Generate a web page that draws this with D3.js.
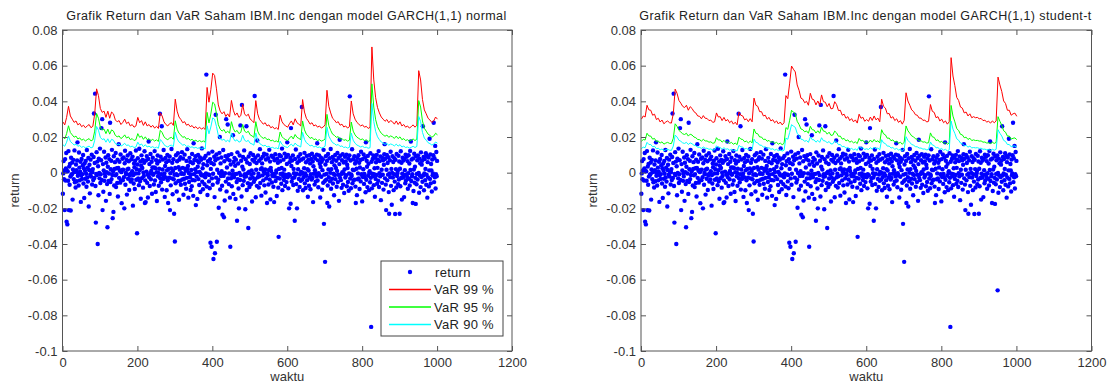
<!DOCTYPE html>
<html>
<head>
<meta charset="utf-8">
<script src="https://cdn.jsdelivr.net/npm/d3@7"></script>
<style>
  body { margin: 0; background: #fff; }
  svg { font-family: "Liberation Sans", Arial, sans-serif; }
  .tick text { fill: #333; font-size: 13px; }
  .tick line { stroke: #555; }
</style>
</head>
<body>
<div id="chart"></div>
<script>
// return saham IBM, satuan 1e-4, waktu = 1..1000
const ret = [
  -118,-4,65,-37,12,-210,76,-44,23,110,-275,9,-290,7,-45,121,-210,34,-68,49,
  -22,-212,84,-12,-9,57,-151,18,72,-36,3,125,-54,6,-83,46,14,-48,68,170,
  -17,-3,-72,113,28,-43,6,61,-164,-14,77,-35,-8,42,99,-61,25,-142,51,11,
  -34,66,-6,-79,127,-27,28,-50,82,-190,15,44,-116,-11,73,-22,5,101,-66,2,
  20,-41,88,332,-30,54,443,-75,-280,-7,115,-13,62,-400,36,-127,79,-2,-32,135,
  -58,-9,70,250,-41,300,-210,48,-107,12,117,-46,-4,-21,85,-158,56,2,-64,-306,
  33,98,-47,-5,76,-119,280,-53,19,67,-36,128,-13,-255,7,-220,92,-72,21,59,
  -15,110,-81,-8,25,-58,73,-134,26,160,-29,61,11,-56,102,-44,3,-171,15,78,
  -42,17,86,-25,-200,53,123,-68,-2,-9,71,-123,18,96,-34,22,64,-97,-10,-16,
  109,-50,-6,75,-38,8,90,-185,-13,-61,52,31,-92,67,-5,124,-40,19,-340,46,
  81,-33,-4,-70,134,14,-48,63,-146,39,97,-31,26,72,-84,1,-19,55,120,-170,
  -43,-165,68,6,93,-57,-11,-139,77,175,-24,48,-75,-3,105,-37,10,61,-118,29,
  84,-12,-7,-66,29,121,-44,25,-108,70,3,-159,51,96,-20,-1,-73,22,65,330,
  -31,89,-54,-9,260,-95,18,74,-35,127,-20,-5,-136,37,82,-27,59,-99,13,100,
  -43,-170,21,67,-28,91,-210,-3,-71,24,133,-32,56,-121,9,75,-37,-230,-12,-386,
  26,-59,98,-8,-106,64,-14,109,-47,31,-152,73,17,-45,87,-68,-6,-3,115,-38,
  27,79,-124,-7,-34,101,-62,22,11,-90,66,-29,132,20,38,-140,-2,-52,83,-26,
  60,-97,-10,15,-76,105,-41,53,-130,165,-8,71,-43,19,92,-182,4,-22,68,-147,
  33,99,-36,57,-69,4,86,-108,-6,72,-15,136,-51,25,-93,48,-17,81,-64,-11,
  -26,94,-4,550,-78,42,-125,65,-10,108,-49,-13,-87,76,-393,21,54,-415,-32,118,
  -68,-6,-484,47,89,-137,-452,70,325,-28,102,-387,16,-55,79,-40,-197,-2,111,200,
  -94,52,-19,85,8,-73,-236,-9,127,-18,-250,64,-156,-3,93,-50,300,-105,29,77,
  270,-33,98,-64,-5,69,-140,-415,46,-31,104,-76,-12,11,210,-119,60,-26,83,-8,
  39,-148,73,-7,-52,-270,114,-37,51,-89,-200,-1,96,-41,265,-14,67,-134,380,33,
  -70,88,18,-46,125,-23,-8,-205,75,-21,260,-97,57,-3,-59,-310,91,5,-80,49,
  -33,109,-65,-10,13,-162,72,-28,99,-4,-51,63,430,-37,84,-138,16,54,-74,180,
  -26,97,-6,-83,67,-20,132,-58,20,79,-129,25,52,-15,90,-43,6,106,-71,-2,
  18,-111,74,-32,101,-170,-5,-14,81,-66,15,128,-38,62,-150,27,9,95,-55,-11,
  -19,86,-79,-7,-165,70,-22,103,-47,-1,13,-131,78,-29,56,-84,-360,21,99,-33,
  64,-7,92,-62,26,135,-98,-4,-19,73,-41,17,107,-75,-12,-23,88,-53,49,170,
  -26,100,-88,-8,-200,59,-16,82,-174,250,37,-50,68,-31,96,-69,21,-3,-27,-270,
  77,-12,130,-64,-6,-200,55,-101,19,89,-35,66,-80,-10,104,-46,4,73,368,-38,
  -2,-99,80,-24,25,111,-60,-5,-86,58,-17,94,-42,19,-135,71,12,-73,98,-27,
  52,-93,-9,77,-38,106,-30,63,-165,36,-6,90,-67,14,79,-50,-4,-21,101,165,
  -44,69,-82,-3,97,-16,50,-139,32,84,-23,61,-96,14,75,-57,128,-287,-11,-48,
  -500,46,92,-39,-7,66,-170,-72,105,18,-25,-190,81,-48,-1,133,-90,20,59,-34,
  88,-61,-6,74,-127,41,-13,99,-36,26,67,-79,10,110,-53,-12,82,-158,48,185,
  -29,95,-42,-8,-85,70,3,104,-68,-3,57,-114,18,89,-27,63,-14,101,-76,44,
  26,-52,80,-101,-5,97,428,-33,68,-87,-10,-19,131,-60,17,75,-44,14,92,-39,
  51,-78,-170,65,22,-126,83,-37,-4,98,-33,56,-92,29,71,-49,117,-9,-12,-161,
  76,-24,19,102,-63,-7,-25,86,-110,170,-40,67,33,-81,94,-17,50,-98,-2,8,
  -54,109,-29,-865,61,-88,-6,77,-20,96,-70,-9,25,-135,84,-35,58,-13,100,-62,
  27,73,-46,121,-80,-3,65,-21,91,-154,-11,16,-57,82,-12,69,-95,44,103,160,
  -32,78,-67,-210,16,99,-43,54,-11,87,-109,-230,-5,70,-25,117,-74,21,-180,-1,
  93,-27,60,-98,-8,81,-50,-232,72,20,-83,105,-19,-4,10,-65,95,-38,63,-230,
  22,-76,120,-30,55,-151,-6,84,-28,68,-13,-137,77,14,-59,101,-44,-10,89,-24,
  65,-90,-3,98,-34,51,-72,122,15,175,-47,74,-21,-9,-170,80,-103,18,106,-56,
  33,-29,-175,92,-65,-7,70,-38,97,-660,-2,-113,79,-16,53,-81,114,-24,45,67,
  -51,260,-16,88,-99,-5,76,-42,21,109,-68,-12,94,-140,59,-27,85,-77,13,190,
  -35,102,-60,49,12,-106,74,-15,-4,98,280,-53,81,-26,150,-89,-9,116,-20,66
];

// VaR GARCH(1,1) normal, satuan 1e-4, waktu = 1,6,11,...,1001
const var99n = [
  285,268,310,372,318,300,282,290,268,276, 258,266,252,262,270,252,260,330,470,432,
  360,338,345,310,345,305,340,330,296,285, 292,270,282,300,275,284,262,270,255,262,
  310,280,292,265,285,262,270,255,265,250, 260,248,335,318,285,270,262,275,280,265,
  412,345,312,298,280,286,266,272,258,264, 250,258,246,255,244,252,242,478,395,465,
  558,545,470,380,345,330,342,315,330,312, 405,350,322,335,310,320,382,330,318,328,
  300,292,280,404,330,298,285,272,280,262, 268,252,258,246,252,242,322,286,270,262,
  255,275,290,268,302,280,272,262,410,340, 305,290,272,280,262,268,255,262,250,256,
  268,462,372,335,305,295,280,286,266,272, 256,262,250,258,402,330,300,282,272,262,
  268,255,260,248,254,705,520,420,365,335, 312,300,288,298,280,292,285,272,290,270,
  285,262,270,255,262,250,258,268,255,266, 572,520,410,352,330,305,295,282,290,312,
  300
];
const var95n = [
  201,189,219,263,225,212,199,205,189,195, 182,188,178,185,191,178,184,233,332,305,
  255,239,244,219,244,216,240,233,209,201, 206,191,199,212,194,201,185,191,180,185,
  219,198,206,187,201,185,191,180,187,177, 184,175,237,225,201,191,185,194,198,187,
  291,244,221,211,198,202,188,192,182,187, 177,182,174,180,173,178,171,338,279,329,
  395,385,332,269,244,233,242,223,233,221, 286,247,228,237,219,226,270,233,225,232,
  212,206,198,286,233,211,201,192,198,185, 189,178,182,174,178,171,228,202,191,185,
  180,194,205,189,214,198,192,185,290,240, 216,205,192,198,185,189,180,185,177,181,
  189,327,263,237,216,209,198,202,188,192, 181,185,177,182,284,233,212,199,192,185,
  189,180,184,175,180,498,368,297,258,237, 221,212,204,211,198,206,201,192,205,191,
  201,185,191,180,185,177,182,189,180,188, 404,368,290,249,233,216,209,199,205,221,
  212
];
const var90n = [
  157,148,171,205,175,165,155,160,148,152, 142,147,139,144,149,139,143,182,259,238,
  198,186,190,171,190,168,187,182,163,157, 161,149,155,165,152,156,144,149,141,144,
  171,154,161,146,157,144,149,141,146,138, 143,137,185,175,157,149,144,152,154,146,
  227,190,172,164,154,158,147,150,142,145, 138,142,136,141,134,139,133,263,218,256,
  307,300,259,209,190,182,188,174,182,172, 223,193,177,185,171,176,210,182,175,181,
  165,161,154,223,182,164,157,150,154,144, 148,139,142,136,139,133,177,158,149,144,
  141,152,160,148,166,154,150,144,226,187, 168,160,150,154,144,148,141,144,138,141,
  148,255,205,185,168,163,154,158,147,150, 141,144,138,142,222,182,165,155,150,144,
  148,141,143,137,140,388,287,231,201,185, 172,165,159,164,154,161,157,150,160,149,
  157,144,149,141,144,138,142,148,141,147, 315,287,226,194,182,168,163,155,160,172,
  165
];

// VaR GARCH(1,1) student-t, satuan 1e-4, waktu = 1,6,11,...,1001
const var99t = [
  300,318,312,378,352,350,322,328,298,305, 284,295,274,284,290,280,278,330,468,445,
  405,390,372,365,378,350,370,360,342,335, 318,316,302,320,305,304,292,295,282,285,
  335,312,314,292,310,290,298,280,290,272, 283,268,340,322,318,296,302,286,303,285,
  418,378,372,342,342,318,322,300,310,290, 297,280,290,273,284,268,280,432,415,502,
  598,580,565,492,462,418,412,392,400,378, 445,412,408,380,402,378,436,398,395,370,
  388,358,360,398,382,348,350,322,328,305, 314,292,303,285,296,278,328,305,311,288,
  298,288,312,293,318,296,306,285,412,372, 362,330,332,306,314,292,302,282,292,272,
  293,448,402,378,352,343,325,322,306,306, 293,295,284,288,382,344,338,308,314,290,
  300,280,290,272,285,645,542,488,422,405, 368,362,335,340,318,330,308,314,308,310,
  302,304,292,294,284,288,278,290,280,290, 536,492,455,402,388,350,350,322,330,334,
  316
];
const var95t = [
  176,186,183,221,206,205,188,192,174,178, 166,173,160,166,170,164,163,193,274,260,
  237,228,218,214,221,205,216,211,200,196, 186,185,177,187,178,178,171,173,165,167,
  196,183,184,171,181,170,174,164,170,159, 166,157,199,188,186,173,177,167,177,167,
  245,221,218,200,200,186,188,176,181,170, 174,164,170,160,166,157,164,253,243,294,
  350,339,331,288,270,245,241,229,234,221, 260,241,239,222,235,221,255,233,231,216,
  227,209,211,233,223,204,205,188,192,178, 184,171,177,167,173,163,192,178,182,168,
  174,168,183,171,186,173,179,167,241,218, 212,193,194,179,184,171,177,165,171,159,
  171,262,235,221,206,201,190,188,179,179, 171,173,166,168,223,201,198,180,184,170,
  176,164,170,159,167,377,317,285,247,237, 215,212,196,199,186,193,180,184,180,181,
  177,178,171,172,166,168,163,170,164,170, 314,288,266,235,227,205,205,188,193,195,
  185
];
const var90t = [
  135,143,140,170,158,158,145,148,134,137, 128,133,123,128,131,126,125,149,211,200,
  182,176,167,164,170,158,167,162,154,151, 143,142,136,144,137,137,131,133,127,128,
  151,140,141,131,140,131,134,126,131,122, 127,121,153,145,143,133,136,129,136,128,
  188,170,167,154,154,143,145,135,140,131, 134,126,131,123,128,121,126,194,187,226,
  269,261,254,221,208,188,185,176,180,170, 200,185,184,171,181,170,196,179,178,167,
  175,161,162,179,172,157,158,145,148,137, 141,131,136,128,133,125,148,137,140,130,
  134,130,140,132,143,133,138,128,185,167, 163,149,149,138,141,131,136,127,131,122,
  132,202,181,170,158,154,146,145,138,138, 132,133,128,130,172,155,152,139,141,131,
  135,126,131,122,128,290,244,220,190,182, 166,163,151,153,143,149,139,141,139,140,
  136,137,131,132,128,130,125,131,126,131, 241,221,205,181,175,158,158,145,149,150,
  142
];

const xTicks = [0, 200, 400, 600, 800, 1000, 1200];
const yTicks = [-0.1, -0.08, -0.06, -0.04, -0.02, 0, 0.02, 0.04, 0.06, 0.08];
const legendLabels = ["return", "VaR 99 %", "VaR 95 %", "VaR 90 %"];
const colors = ["#0000ff", "#ff0000", "#00ff00", "#00ffff"];

const W = 1110, H = 385;
const plotTop = 30, plotBottom = 351;
const svg = d3.select("#chart").append("svg").attr("width", W).attr("height", H);

function drawPanel(left, right, title, titleWidth, v99, v95, v90, withLegend) {
  const x = d3.scaleLinear().domain([0, 1200]).range([left, right]);
  const y = d3.scaleLinear().domain([-0.1, 0.08]).range([plotBottom, plotTop]);
  const g = svg.append("g");

  // titik return
  g.append("g").selectAll("circle")
    .data(ret)
    .join("circle")
    .attr("cx", (d, i) => x(i + 1))
    .attr("cy", d => y(d * 1e-4))
    .attr("r", 2.2)
    .attr("fill", colors[0]);

  // garis VaR
  const line = d3.line().x((d, i) => x(1 + 5 * i)).y(d => y(d * 1e-4));
  [v99, v95, v90].forEach((s, i) => {
    g.append("path")
      .attr("d", line(s))
      .attr("fill", "none")
      .attr("stroke", colors[i + 1])
      .attr("stroke-width", 1);
  });

  // sumbu, tick ke dalam seperti matlab
  const fmt = d => d === 0 ? "0" : String(+d.toFixed(2));
  g.append("g").attr("transform", `translate(0,${plotBottom})`)
    .call(d3.axisBottom(x).tickValues(xTicks).tickFormat(d3.format("d"))
      .tickSizeInner(-5).tickSizeOuter(0).tickPadding(7))
    .call(a => a.select(".domain").remove());
  g.append("g").attr("transform", `translate(0,${plotTop})`)
    .call(d3.axisTop(x).tickValues(xTicks).tickSizeInner(-5).tickSizeOuter(0).tickFormat(""))
    .call(a => a.select(".domain").remove());
  g.append("g").attr("transform", `translate(${left},0)`)
    .call(d3.axisLeft(y).tickValues(yTicks).tickFormat(fmt).tickSizeInner(-5).tickSizeOuter(0).tickPadding(5))
    .call(a => a.select(".domain").remove());
  g.append("g").attr("transform", `translate(${right},0)`)
    .call(d3.axisRight(y).tickValues(yTicks).tickSizeInner(-5).tickSizeOuter(0).tickFormat(""))
    .call(a => a.select(".domain").remove());

  g.append("rect")
    .attr("x", left).attr("y", plotTop)
    .attr("width", right - left).attr("height", plotBottom - plotTop)
    .attr("fill", "none").attr("stroke", "#555").attr("stroke-width", 1);

  const cx = (left + right) / 2;
  g.append("text").attr("x", cx - 1).attr("y", 20)
    .attr("text-anchor", "middle").attr("font-size", 12.5)
    .attr("textLength", titleWidth).attr("lengthAdjust", "spacing")
    .attr("fill", "#222")
    .text(title);
  g.append("text").attr("x", cx).attr("y", 381)
    .attr("text-anchor", "middle").attr("font-size", 13).attr("fill", "#333")
    .text("waktu");
  g.append("text")
    .attr("transform", `translate(${left - 44},${(plotTop + plotBottom) / 2}) rotate(-90)`)
    .attr("text-anchor", "middle").attr("font-size", 13).attr("fill", "#333")
    .text("return");

  if (withLegend) {
    const lg = g.append("g").attr("transform", "translate(381,261)");
    lg.append("rect").attr("width", 122).attr("height", 75)
      .attr("fill", "#fff").attr("stroke", "#444").attr("stroke-width", 1);
    legendLabels.forEach((lab, i) => {
      const yy = 11 + i * 17.5;
      if (i === 0) {
        lg.append("circle").attr("cx", 29).attr("cy", yy).attr("r", 2.2).attr("fill", colors[0]);
      } else {
        lg.append("line").attr("x1", 8).attr("x2", 50).attr("y1", yy).attr("y2", yy)
          .attr("stroke", colors[i]).attr("stroke-width", 1.5);
      }
      lg.append("text").attr("x", i === 0 ? 54 : 53).attr("y", yy + 4.5)
        .attr("font-size", 13).attr("letter-spacing", 0.3).attr("fill", "#222").text(lab);
    });
  }
}

drawPanel(62.5, 512, "Grafik Return dan VaR Saham IBM.Inc dengan model GARCH(1,1) normal", 440,
  var99n, var95n, var90n, true);
drawPanel(641, 1091.5, "Grafik Return dan VaR Saham IBM.Inc dengan model GARCH(1,1) student-t", 452,
  var99t, var95t, var90t, false);
</script>
</body>
</html>
